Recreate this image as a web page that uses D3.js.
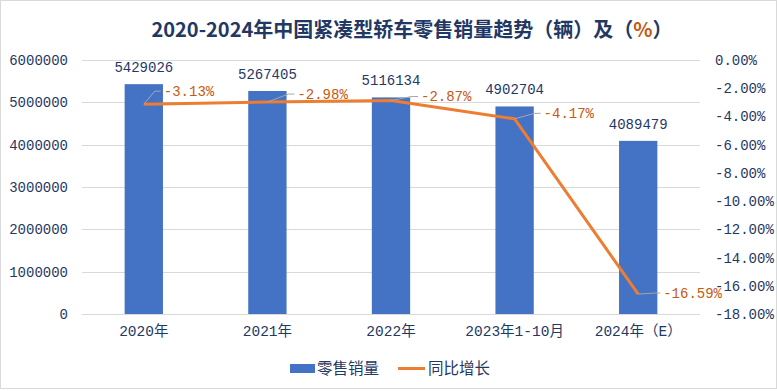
<!DOCTYPE html>
<html><head><meta charset="utf-8">
<script src="https://cdn.jsdelivr.net/npm/d3@7/dist/d3.min.js"></script>
<style>
html,body{margin:0;padding:0;background:#fff;}
svg{display:block;}
</style></head>
<body>
<svg id="c" width="777" height="391"></svg>
<script>
const categories = ["2020年","2021年","2022年","2023年1-10月","2024年（E）"];
const sales = [5429026, 5267405, 5116134, 4902704, 4089479];
const growth = [-3.13, -2.98, -2.87, -4.17, -16.59];
const leftTicks = [0,1000000,2000000,3000000,4000000,5000000,6000000];
const rightTicks = [0,-2,-4,-6,-8,-10,-12,-14,-16,-18];
// leader-line label offsets (styling)
const labelOffsets = [[11,-13],[21,-8],[21,-4],[20,-5.5],[16,-1]];

const W=777,H=391;
const svg=d3.select("#c");
const navy="#1F3864", orange="#ED7D31", labOrange="#C55A11";
const monoFont="'Liberation Mono','Noto Sans CJK SC',monospace";

svg.append("rect").attr("x",0.5).attr("y",0.5).attr("width",W-1).attr("height",H-3)
  .attr("fill","#fff").attr("stroke","#d9d9d9");

const x0=82,x1=700,yTop=60,yBot=314;
const x=d3.scaleBand().domain(categories).range([x0,x1]).paddingInner(0.69).paddingOuter(0.345);
const yL=d3.scaleLinear().domain([0,6000000]).range([yBot,yTop]);
const yR=d3.scaleLinear().domain([-18,0]).range([yBot,yTop]);

// title
const title=svg.append("text").attr("x",412).attr("y",37).attr("text-anchor","middle")
  .attr("font-family","'Noto Sans CJK SC',sans-serif").attr("font-weight","bold")
  .attr("font-size",20).attr("fill",navy);
title.append("tspan").text("2020-2024年中国紧凑型轿车零售销量趋势（辆）及（");
title.append("tspan").attr("fill",labOrange).text("%");
title.append("tspan").text("）");

// gridlines
svg.append("g").selectAll("line").data(leftTicks).join("line")
  .attr("x1",x0).attr("x2",x1).attr("y1",d=>Math.round(yL(d))+0.5).attr("y2",d=>Math.round(yL(d))+0.5)
  .attr("stroke","#d9d9d9").attr("stroke-width",1);

// left axis
const gL=svg.append("g").attr("transform",`translate(${x0},0)`)
  .call(d3.axisLeft(yL).tickValues(leftTicks).tickFormat(d3.format("d")).tickSize(0).tickPadding(14));
gL.select(".domain").remove();
gL.selectAll("text").attr("font-family",monoFont).attr("font-size",14).attr("fill",navy);

// right axis
const gR=svg.append("g").attr("transform",`translate(${x1},0)`)
  .call(d3.axisRight(yR).tickValues(rightTicks).tickFormat(d=>d3.format(".2f")(d).replace("−","-")+"%").tickSize(0).tickPadding(15));
gR.select(".domain").remove();
gR.selectAll("text").attr("font-family",monoFont).attr("font-size",14).attr("fill",navy);

// bars
svg.append("g").selectAll("rect").data(sales).join("rect")
  .attr("x",(d,i)=>x(categories[i])).attr("width",x.bandwidth())
  .attr("y",d=>yL(d)).attr("height",d=>yBot-yL(d))
  .attr("fill","#4472C4");

// bar labels
svg.append("g").selectAll("text").data(sales).join("text")
  .attr("x",(d,i)=>x(categories[i])+x.bandwidth()/2).attr("y",d=>yL(d)-12)
  .attr("text-anchor","middle").attr("font-family",monoFont).attr("font-size",14).attr("fill",navy)
  .text(d=>d);

// x axis labels
const gX=svg.append("g").attr("transform",`translate(0,${yBot})`)
  .call(d3.axisBottom(x).tickSize(0).tickPadding(12));
gX.select(".domain").remove();
gX.selectAll("text").attr("font-family",monoFont).attr("font-size",14.5).attr("fill",navy);

// line
const cx=i=>x(categories[i])+x.bandwidth()/2;
svg.append("path").datum(growth)
  .attr("d",d3.line().x((d,i)=>cx(i)).y(d=>yR(d)))
  .attr("fill","none").attr("stroke",orange).attr("stroke-width",3).attr("stroke-linejoin","round");

// leader lines + labels
const gl=svg.append("g");
growth.forEach((g,i)=>{
  const px=cx(i), py=yR(g);
  const [dx,dy]=labelOffsets[i];
  const ex=px+dx, ey=py+dy;
  gl.append("polyline").attr("points",`${px},${py} ${ex},${ey} ${ex+6},${ey}`)
    .attr("fill","none").attr("stroke","#a6a6a6").attr("stroke-width",1);
  gl.append("text").attr("x",ex+9).attr("y",ey).attr("dy","0.35em")
    .attr("font-family",monoFont).attr("font-size",14).attr("fill",labOrange)
    .text(d3.format(".2f")(g).replace("−","-")+"%");
});

// legend
const lg=svg.append("g").attr("font-family","'Noto Sans CJK SC',sans-serif").attr("font-size",15.5).attr("fill",navy);
lg.append("rect").attr("x",290).attr("y",364).attr("width",25).attr("height",9).attr("fill","#4472C4");
lg.append("text").attr("x",317).attr("y",368.5).attr("dy","0.35em").text("零售销量");
lg.append("line").attr("x1",398).attr("x2",425).attr("y1",368.5).attr("y2",368.5).attr("stroke",orange).attr("stroke-width",3);
lg.append("text").attr("x",428).attr("y",368.5).attr("dy","0.35em").text("同比增长");
</script>
</body></html>
